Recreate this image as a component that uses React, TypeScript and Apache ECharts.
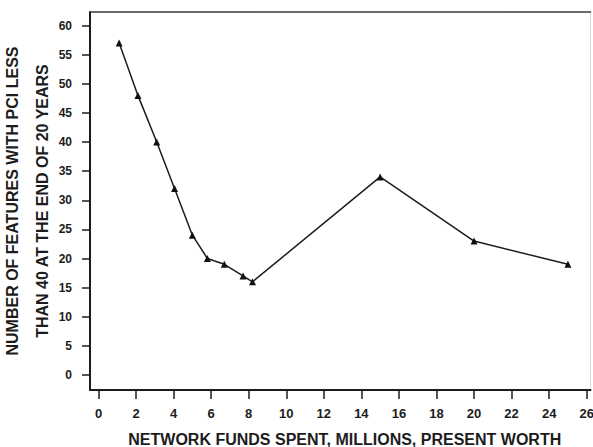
import React, { useEffect, useRef } from "react";
import * as echarts from "echarts";

const xValues = [1.1, 2.1, 3.1, 4.05, 5.0, 5.8, 6.7, 7.7, 8.2, 15, 20, 25];
const yValues = [57, 48, 40, 32, 24, 20, 19, 17, 16, 34, 23, 19];
const xMin = 0;
const xMax = 26;
const xStep = 2;
const yMin = 0;
const yMax = 60;
const yStep = 5;
const xTitle = "NETWORK FUNDS SPENT, MILLIONS, PRESENT WORTH";
const yTitle = "NUMBER OF FEATURES WITH PCI LESS\nTHAN 40 AT THE END OF 20 YEARS";

export default function App() {
  const ref = useRef<HTMLDivElement>(null);
  useEffect(() => {
    if (!ref.current) return;
    const chart = echarts.init(ref.current, undefined, { renderer: "svg" });
    const font = "'Liberation Sans', Arial, sans-serif";
    const ink = "#1c1c1c";
    const frameAxis = (extra: any) => ({
      type: "value",
      min: 0,
      max: 1,
      gridIndex: 1,
      splitLine: { show: false },
      axisTick: { show: false },
      axisLabel: { show: false },
      ...extra,
    });
    chart.setOption({
      animation: false,
      backgroundColor: "#ffffff",
      grid: [
        { left: 98.5, right: 6.3, top: 25.5, bottom: 72, containLabel: false, outerBoundsMode: "none" },
        { left: 90, right: 2.5, top: 12, bottom: 57, containLabel: false, outerBoundsMode: "none" },
      ],
      xAxis: [
        {
          type: "value",
          gridIndex: 0,
          min: xMin,
          max: xMax,
          interval: xStep,
          position: "bottom",
          offset: 15,
          splitLine: { show: false },
          axisLine: { show: false, onZero: false },
          axisTick: { show: true, inside: false, length: 9, lineStyle: { color: ink, width: 1.5 } },
          axisLabel: { margin: 17, color: ink, fontSize: 13, fontWeight: "bold", fontFamily: font },
        },
        frameAxis({
          position: "bottom",
          axisLine: { show: true, onZero: false, lineStyle: { color: ink, width: 2 } },
          name: xTitle,
          nameLocation: "middle",
          nameGap: 41,
          nameTextStyle: {
            color: ink,
            fontSize: 16,
            fontWeight: "bold",
            fontFamily: font,
            padding: [0, 0, 0, 9],
          },
        }),
        frameAxis({
          position: "top",
          axisLine: { show: true, onZero: false, lineStyle: { color: "#3a3a3a", width: 1.5 } },
        }),
      ],
      yAxis: [
        {
          type: "value",
          gridIndex: 0,
          min: yMin,
          max: yMax,
          interval: yStep,
          position: "left",
          offset: 8.5,
          splitLine: { show: false },
          axisLine: { show: false, onZero: false },
          axisTick: { show: true, inside: false, length: 8, lineStyle: { color: ink, width: 1.5 } },
          axisLabel: { margin: 18, color: ink, fontSize: 12, fontWeight: "bold", fontFamily: font },
        },
        frameAxis({
          position: "left",
          axisLine: { show: true, onZero: false, lineStyle: { color: ink, width: 2 } },
          name: yTitle,
          nameLocation: "middle",
          nameRotate: 90,
          nameGap: 33,
          nameTextStyle: {
            color: ink,
            fontSize: 16,
            fontWeight: "bold",
            fontFamily: font,
            lineHeight: 30,
          },
        }),
        frameAxis({
          position: "right",
          axisLine: { show: true, onZero: false, lineStyle: { color: "#d8d8d8", width: 1 } },
        }),
      ],
      series: [
        {
          type: "line",
          xAxisIndex: 0,
          yAxisIndex: 0,
          data: xValues.map((x, i) => [x, yValues[i]]),
          symbol: "triangle",
          symbolSize: 7,
          lineStyle: { color: ink, width: 1.5 },
          itemStyle: { color: "#111111" },
        },
      ],
    });
    return () => chart.dispose();
  }, []);
  return (
    <div
      ref={ref}
      style={{ position: "fixed", left: 0, top: 0, width: 593, height: 447 }}
    />
  );
}
